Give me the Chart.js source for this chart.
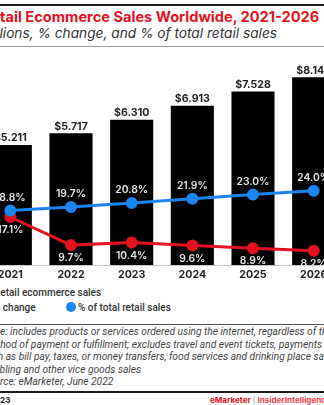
<!DOCTYPE html>
<html>
<head>
<meta charset="utf-8">
<script src="https://cdn.jsdelivr.net/npm/chart.js@4.4.1/dist/chart.umd.min.js"></script>
<style>
  html, body { margin: 0; padding: 0; background: #fff; }
  body { width: 324px; height: 405px; position: relative; overflow: hidden; font-family: Inter, "Open Sans", sans-serif; }
  .rule { position: absolute; left: 0; width: 324px; }
  .cut { position: absolute; left: 0; white-space: nowrap; }
  #title { top: 8px; font-size: 14.6px; font-weight: 700; color: #e3121e; }
  #subtitle { top: 25px; font-size: 13.7px; font-style: italic; color: #333; }
  #chartWrap { position: absolute; left: -20px; top: 50px; width: 364px; height: 235px; }
  .leg { font-family: Roboto, sans-serif; font-size: 10px; font-weight: 500; color: #333; }
  .mark { display: inline-block; width: 9px; height: 9px; margin-right: 4px; vertical-align: -1px; }
  .note { font-family: Roboto, sans-serif; font-size: 10.2px; font-style: italic; color: #444; }
  .foot { top: 395px; font-size: 8.1px; font-weight: 700; }
</style>
</head>
<body>
<div class="rule" style="top:4px;height:2px;background:#1a1a1a"></div>
<div class="cut" id="title"><span class="pre">Re</span>tail Ecommerce Sales Worldwide, 2021-2026</div>
<div class="cut" id="subtitle"><span class="pre">tril</span>lions, % change, and % of total retail sales</div>
<div class="rule" style="top:46px;height:1px;background:#9a9a9a"></div>

<div id="chartWrap"><canvas id="salesChart"></canvas></div>

<div class="cut leg" style="top:287px"><span class="pre"><span class="mark" style="background:#000"></span>R</span>etail ecommerce sales</div>
<div class="cut leg" style="top:302px"><span class="pre"><span class="mark" style="background:#e3121e;border-radius:50%"></span>%</span> change</div>
<div class="leg" style="position:absolute;left:66px;top:302px;white-space:nowrap"><span class="mark" style="background:#1a86f2;border-radius:50%;width:10px;height:10px;margin-right:2px"></span>% of total retail sales</div>

<div class="rule" style="top:324px;height:1px;background:#555"></div>
<div class="cut note" style="top:326px"><span class="pre">Not</span>e: includes products or services ordered using the internet, regardless of the</div>
<div class="cut note" style="top:338.5px"><span class="pre">met</span>hod of payment or fulfillment; excludes travel and event tickets, payments</div>
<div class="cut note" style="top:351px" data-x="-2"><span class="pre">suc</span>h as bill pay, taxes, or money transfers, food services and drinking place sales, and</div>
<div class="cut note" style="top:363.5px"><span class="pre">gam</span>bling and other vice goods sales</div>
<div class="cut note" style="top:376px"><span class="pre">Sou</span>rce: eMarketer, June 2022</div>
<div class="rule" style="top:391px;height:2px;background:#1a1a1a"></div>
<div class="cut foot" style="color:#222"><span class="pre">2765</span>23</div>
<div class="foot" style="position:absolute;left:210px;white-space:nowrap">
  <span style="color:#e3121e">eMarketer</span> <span style="color:#999;font-weight:400">|</span> <span style="color:#ef3e4a">InsiderIntelligence.com</span>
</div>

<script>
const years = ["2021", "2022", "2023", "2024", "2025", "2026"];
const salesTrillions = [5.211, 5.717, 6.310, 6.913, 7.528, 8.148];
const pctChange = [17.1, 9.7, 10.4, 9.6, 8.9, 8.2];
const pctOfRetail = [18.8, 19.7, 20.8, 21.9, 23.0, 24.0];

const RED = "#e3121e";
const BLUE = "#1a86f2";

// text lines run off the left edge: slide each so its hidden prefix sits left of x=0
document.querySelectorAll(".cut").forEach(el => {
  const pre = el.querySelector(".pre");
  el.style.left = (-pre.offsetWidth + (parseFloat(el.dataset.x) || 0)) + "px";
});

// value labels: dollars over bars, percents above (share) / below (change) the points
const valueLabels = {
  id: "valueLabels",
  afterDatasetsDraw(chart) {
    const c = chart.ctx;
    c.save();
    c.textAlign = "center";
    c.textBaseline = "middle";
    chart.data.datasets.forEach((ds, i) => {
      const meta = chart.getDatasetMeta(i);
      meta.data.forEach((el, j) => {
        const v = ds.data[j];
        if (ds.type === "bar") {
          c.font = "700 10.6px Inter, sans-serif";
          c.fillStyle = "#222";
          c.fillText("$" + v.toFixed(3), el.x, el.y - 7);
        } else {
          c.font = "600 10.3px Inter, sans-serif";
          c.fillStyle = "#e6e6e6";
          const dy = ds.labelPos === "above" ? -13 : 13;
          c.fillText(v.toFixed(1) + "%", el.x, el.y + dy);
        }
      });
    });
    c.restore();
  }
};

new Chart(document.getElementById("salesChart"), {
  data: {
    labels: years,
    datasets: [
      {
        type: "line",
        label: "% of total retail sales",
        data: pctOfRetail,
        yAxisID: "y2",
        borderColor: BLUE,
        backgroundColor: BLUE,
        borderWidth: 3,
        pointRadius: 4.5,
        labelPos: "above",
        order: 1
      },
      {
        type: "line",
        label: "% change",
        data: pctChange,
        yAxisID: "y2",
        borderColor: RED,
        backgroundColor: RED,
        borderWidth: 3,
        pointRadius: 4.5,
        labelPos: "below",
        order: 1
      },
      {
        type: "bar",
        label: "Retail ecommerce sales",
        data: salesTrillions,
        yAxisID: "y",
        backgroundColor: "#000",
        barPercentage: 0.71,
        categoryPercentage: 1,
        order: 2
      }
    ]
  },
  options: {
    responsive: true,
    maintainAspectRatio: false,
    animation: false,
    layout: { autoPadding: false, padding: { top: 10, left: 0, right: 0, bottom: 0 } },
    plugins: { legend: { display: false }, tooltip: { enabled: false } },
    scales: {
      x: {
        grid: { display: false, drawTicks: false },
        border: { display: true, color: "#c8c8c8", width: 1 },
        ticks: { padding: 3, color: "#222", font: { family: "Inter", size: 10.6, weight: "700" } },
        afterFit(scale) { scale.height = 20; }
      },
      y: { display: false, min: 0, max: 8.9 },
      y2: { display: false, min: 4.47, max: 58.4 }
    }
  },
  plugins: [valueLabels]
});
</script>
</body>
</html>
